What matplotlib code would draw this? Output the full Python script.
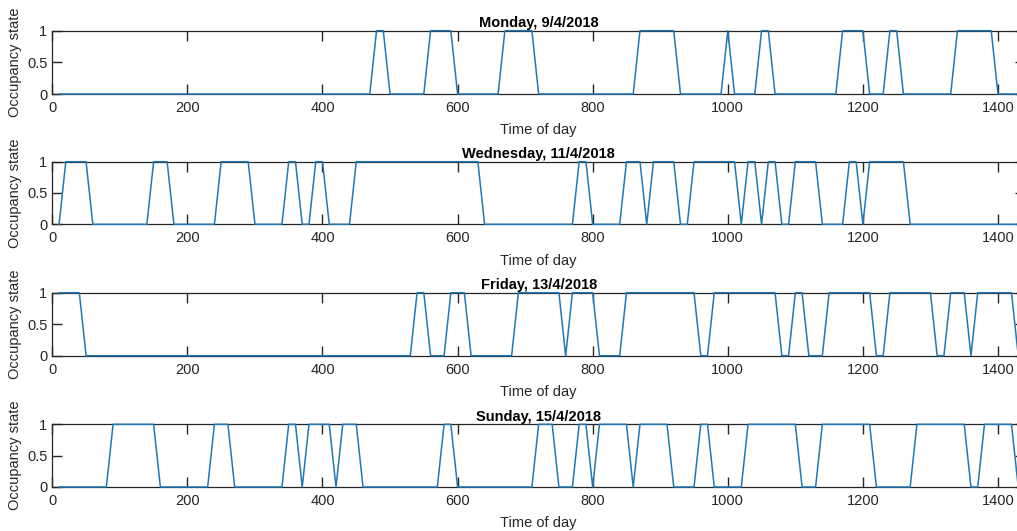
import matplotlib
matplotlib.use("Agg")
import matplotlib.pyplot as plt

# ---- data: polyline vertices (time of day in minutes, occupancy state) ----
titles = ["Monday, 9/4/2018", "Wednesday, 11/4/2018", "Friday, 13/4/2018", "Sunday, 15/4/2018"]

monday_time = [10, 470, 480, 490, 500, 550, 560, 590, 600, 660, 670, 710, 720, 860, 870, 920, 930,
               990, 1000, 1010, 1040, 1050, 1060, 1070, 1160, 1170, 1200, 1210, 1230, 1240, 1250,
               1260, 1330, 1340, 1390, 1400, 1440]
monday_state = [0, 0, 1, 1, 0, 0, 1, 1, 0, 0, 1, 1, 0, 0, 1, 1, 0,
                0, 1, 0, 0, 1, 1, 0, 0, 1, 1, 0, 0, 1, 1,
                0, 0, 1, 1, 0, 0]

wednesday_time = [10, 20, 50, 60, 140, 150, 170, 180, 240, 250, 290, 300, 340, 350, 360, 370, 380,
                  390, 400, 410, 440, 450, 630, 640, 770, 780, 790, 800, 840, 850, 870, 880, 890,
                  920, 930, 940, 950, 1010, 1020, 1030, 1040, 1050, 1060, 1070, 1080, 1090, 1100,
                  1130, 1140, 1170, 1180, 1190, 1200, 1210, 1260, 1270, 1440]
wednesday_state = [0, 1, 1, 0, 0, 1, 1, 0, 0, 1, 1, 0, 0, 1, 1, 0, 0,
                   1, 1, 0, 0, 1, 1, 0, 0, 1, 1, 0, 0, 1, 1, 0, 1,
                   1, 0, 0, 1, 1, 0, 1, 1, 0, 1, 1, 0, 0, 1,
                   1, 0, 0, 1, 1, 0, 1, 1, 0, 0]

friday_time = [10, 40, 50, 530, 540, 550, 560, 580, 590, 610, 620, 680, 690, 750, 760, 770, 800,
               810, 840, 850, 950, 960, 970, 980, 1070, 1080, 1090, 1100, 1110, 1120, 1140, 1150,
               1210, 1220, 1230, 1240, 1300, 1310, 1320, 1330, 1350, 1360, 1370, 1420, 1430, 1440]
friday_state = [1, 1, 0, 0, 1, 1, 0, 0, 1, 1, 0, 0, 1, 1, 0, 1, 1,
                0, 0, 1, 1, 0, 0, 1, 1, 0, 0, 1, 1, 0, 0, 1,
                1, 0, 0, 1, 1, 0, 0, 1, 1, 0, 1, 1, 0, 0]

sunday_time = [10, 80, 90, 150, 160, 230, 240, 260, 270, 340, 350, 360, 370, 380, 410, 420, 430,
               450, 460, 570, 580, 590, 600, 710, 720, 740, 750, 770, 780, 790, 800, 810, 850,
               860, 870, 910, 920, 950, 960, 970, 980, 1020, 1030, 1100, 1110, 1130, 1140, 1210,
               1220, 1270, 1280, 1350, 1360, 1370, 1380, 1420, 1430, 1440]
sunday_state = [0, 0, 1, 1, 0, 0, 1, 1, 0, 0, 1, 1, 0, 1, 1, 0, 1,
                1, 0, 0, 1, 1, 0, 0, 1, 1, 0, 0, 1, 1, 0, 1, 1,
                0, 1, 1, 0, 0, 1, 1, 0, 0, 1, 1, 0, 0, 1, 1,
                0, 0, 1, 1, 0, 0, 1, 1, 0, 0]

x_ticks = [0, 200, 400, 600, 800, 1000, 1200, 1400]
y_ticks = [0, 0.5, 1]
y_ticklabels = ["0", "0.5", "1"]

series = [(monday_time, monday_state), (wednesday_time, wednesday_state),
          (friday_time, friday_state), (sunday_time, sunday_state)]

# ---- styling ----
plt.rcParams['font.family'] = ['Liberation Sans', 'DejaVu Sans']
W, H = 1017, 531
fig = plt.figure(figsize=(W / 100, H / 100), dpi=100)
fig.patch.set_facecolor('white')

axis_color = '#262626'
line_color = '#1f78b4'

# axes boxes in pixels: (left, top, right, bottom)
boxes = [(52.3, 30.7, 1025, 94.0),
         (52.3, 161.7, 1025, 224.3),
         (52.3, 292.7, 1025, 355.7),
         (52.3, 424.3, 1025, 487.0)]

for (t, s), title, (l, tp, r, b) in zip(series, titles, boxes):
    ax = fig.add_axes([l / W, (H - b) / H, (r - l) / W, (b - tp) / H])
    ax.plot(t, s, color=line_color, lw=1.1, clip_on=False, zorder=5)
    ax.set_xlim(0, 1440)
    ax.set_ylim(0, 1)
    ax.set_xticks(x_ticks)
    ax.set_yticks(y_ticks)
    ax.set_yticklabels(y_ticklabels)
    ax.tick_params(direction='in', length=7.2, width=1.0, color=axis_color,
                   labelcolor=axis_color, labelsize=10.5, top=True, right=True)
    ax.tick_params(axis='x', pad=5)
    ax.tick_params(axis='y', pad=3.5)
    for sp in ax.spines.values():
        sp.set_color(axis_color)
        sp.set_linewidth(0.9)
    ax.set_title(title, fontsize=10.5, fontweight='bold', color='black', pad=2.5)
    ax.set_xlabel("Time of day", fontsize=10.5, color=axis_color, labelpad=6)
    ax.set_ylabel("Occupancy state", fontsize=10.5, color=axis_color, labelpad=4)

fig.savefig("out.png", dpi=100)
